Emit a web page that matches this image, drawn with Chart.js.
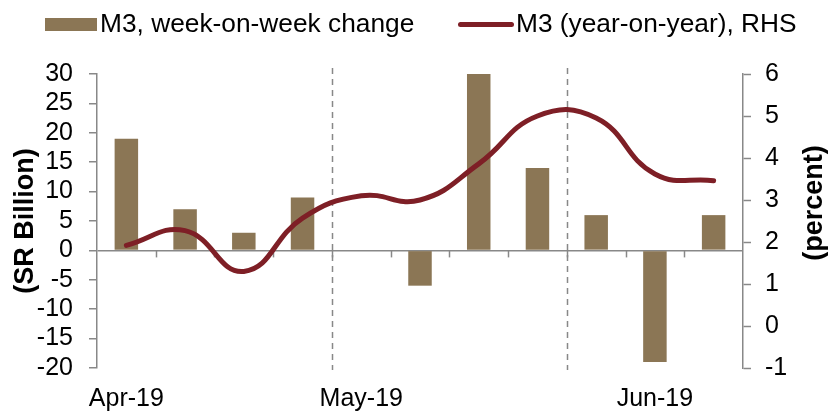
<!DOCTYPE html>
<html>
<head>
<meta charset="utf-8">
<script src="https://cdn.jsdelivr.net/npm/chart.js@4.4.1/dist/chart.umd.min.js"></script>
<style>
  html, body { margin: 0; padding: 0; background: #ffffff; }
  #wrap { position: relative; width: 839px; height: 412px; overflow: hidden; }
  #c { position: absolute; left: 0; top: 0; }
  .lg { position: absolute; font-family: "Liberation Sans", Arial, sans-serif; font-size: 26.3px; line-height: 26px; color: #000; white-space: nowrap; }
  .sw { position: absolute; }
</style>
</head>
<body>
<div id="wrap">
  <canvas id="c" width="839" height="412"></canvas>
  <div class="sw" id="swBar" style="left:45px; top:18px; width:52px; height:13px;"></div>
  <div class="lg" id="lgBar" style="left:100px; top:10px;"></div>
  <div class="sw" id="swLine" style="left:458px; top:22px; width:56px; height:5px; border-radius:3px;"></div>
  <div class="lg" id="lgLine" style="left:516px; top:10px;"></div>
</div>
<script>
// ---------------- data ----------------
const categories = ['Apr-19', '', '', '', 'May-19', '', '', '', '', 'Jun-19', ''];
const m3WeeklyChange = [19, 7, 3, 9, null, -6, 30, 14, 6, -19, 6];      // SR billion, left axis
const m3YearOnYear   = [1.92, 2.27, 1.30, 2.57, 3.10, 3.00, 3.86, 5.00, 4.95, 3.62, 3.46]; // percent, RHS
const seriesNames = ['M3, week-on-week change', 'M3 (year-on-year), RHS'];
const leftAxisTitle = '(SR Billion)';
const rightAxisTitle = '(percent)';
const monthDividersAfter = [3, 7];   // category index after which a month divider is drawn

// ---------------- styles ----------------
const BAR_COLOR = '#8b7655';
const LINE_COLOR = '#7e1f26';
const AXIS_GRAY = '#888888';
const FONT = '"Liberation Sans", Arial, sans-serif';
const TICK_SIZE = 25;

document.getElementById('swBar').style.background = BAR_COLOR;
document.getElementById('swLine').style.background = LINE_COLOR;
document.getElementById('lgBar').textContent = seriesNames[0];
document.getElementById('lgLine').textContent = seriesNames[1];

const decor = {
  id: 'decor',
  beforeDatasetsDraw(chart) {
    const { ctx, chartArea, scales } = chart;
    const x = scales.x, y = scales.y;
    const y0 = y.getPixelForValue(0);
    const half = (x.getPixelForValue(1) - x.getPixelForValue(0)) / 2;
    ctx.save();
    ctx.strokeStyle = AXIS_GRAY;
    ctx.lineWidth = 1.5;
    // month dividers
    ctx.setLineDash([6, 5]);
    monthDividersAfter.forEach(i => {
      const px = Math.round(x.getPixelForValue(i) + half) + 0.5;
      ctx.beginPath();
      ctx.moveTo(px, chartArea.top - 6);
      ctx.lineTo(px, chartArea.bottom + 2);
      ctx.stroke();
    });
    ctx.setLineDash([]);
    // tick marks on zero line between categories
    for (let i = 0; i < categories.length - 1; i++) {
      const px = Math.round(x.getPixelForValue(i) + half) + 0.5;
      ctx.beginPath();
      ctx.moveTo(px, y0);
      ctx.lineTo(px, y0 + 7);
      ctx.stroke();
    }
    ctx.restore();
  },
  afterDraw(chart) {
    const { ctx } = chart;
    ctx.save();
    ctx.fillStyle = '#000';
    ctx.font = 'bold 27px ' + FONT;
    ctx.textAlign = 'center';
    ctx.textBaseline = 'middle';
    ctx.translate(815, 203);
    ctx.rotate(-Math.PI / 2);
    ctx.fillText(rightAxisTitle, 0, 0);
    ctx.restore();
  }
};

new Chart(document.getElementById('c'), {
  data: {
    labels: categories,
    datasets: [
      {
        type: 'line',
        label: seriesNames[1],
        data: m3YearOnYear,
        yAxisID: 'y1',
        borderColor: LINE_COLOR,
        backgroundColor: LINE_COLOR,
        borderWidth: 5,
        pointRadius: 0,
        tension: 0.45,
        borderCapStyle: 'round',
        order: 0
      },
      {
        type: 'bar',
        label: seriesNames[0],
        data: m3WeeklyChange,
        yAxisID: 'y',
        backgroundColor: BAR_COLOR,
        borderWidth: 0,
        categoryPercentage: 1.0,
        barPercentage: 0.4,
        order: 1
      }
    ]
  },
  options: {
    responsive: false,
    animation: false,
    devicePixelRatio: 1,
    layout: { padding: { top: 74, right: 0, left: 0, bottom: 0 } },
    plugins: {
      legend: { display: false },
      tooltip: { enabled: false }
    },
    scales: {
      x: {
        type: 'category',
        offset: true,
        grid: { display: false, drawTicks: false },
        border: { display: false },
        ticks: {
          autoSkip: false,
          maxRotation: 0,
          minRotation: 0,
          color: '#000',
          padding: 16,
          font: { family: FONT, size: TICK_SIZE }
        },
        afterFit(scale) { scale.height = 44; }
      },
      y: {
        position: 'left',
        min: -20,
        max: 30,
        ticks: {
          stepSize: 5,
          autoSkip: false,
          color: '#000',
          padding: 16,
          font: { family: FONT, size: TICK_SIZE, lineHeight: 1 }
        },
        grid: {
          drawOnChartArea: true,
          color: ctx => (ctx.tick && ctx.tick.value === 0) ? AXIS_GRAY : 'rgba(0,0,0,0)',
          lineWidth: 1.5,
          tickColor: AXIS_GRAY,
          tickLength: 8,
          tickWidth: 1.5
        },
        border: { display: true, color: AXIS_GRAY, width: 1.5 },
        title: {
          display: true,
          text: leftAxisTitle,
          color: '#000',
          font: { family: FONT, size: 27, weight: 'bold' },
          padding: { top: 9, bottom: 0 }
        },
        afterFit(scale) { scale.width = 97; }
      },
      y1: {
        position: 'right',
        min: -1,
        max: 6,
        ticks: {
          stepSize: 1,
          autoSkip: false,
          color: '#000',
          padding: 14,
          font: { family: FONT, size: TICK_SIZE, lineHeight: 1 }
        },
        grid: {
          drawOnChartArea: false,
          tickColor: AXIS_GRAY,
          tickLength: 8,
          tickWidth: 1.5
        },
        border: { display: true, color: AXIS_GRAY, width: 1.5 },
        afterFit(scale) { scale.width = 96; }
      }
    }
  },
  plugins: [decor]
});
</script>
</body>
</html>
